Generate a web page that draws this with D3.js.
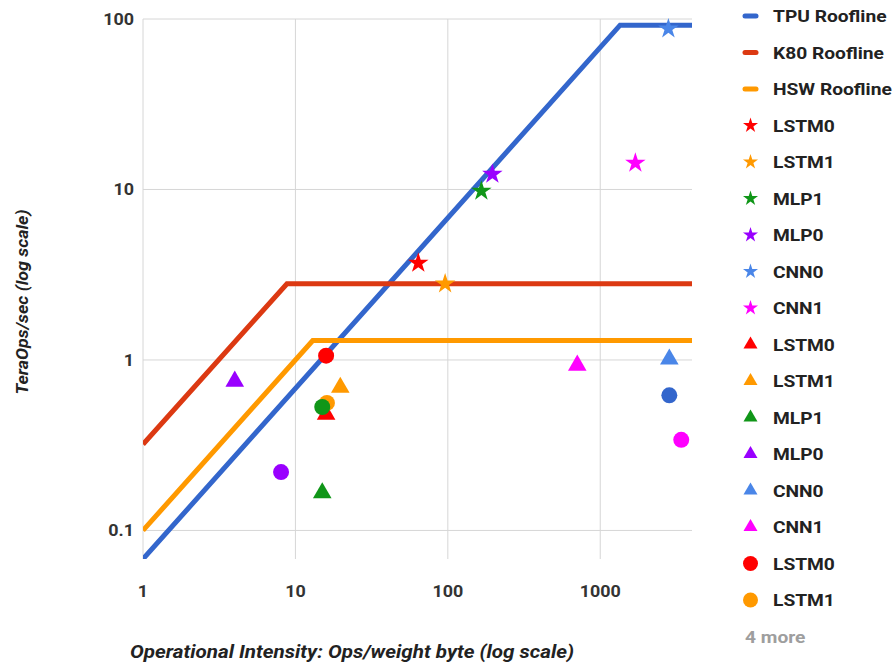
<!DOCTYPE html>
<html>
<head>
<meta charset="utf-8">
<script src="https://cdn.jsdelivr.net/npm/d3@7"></script>
<style>
  body { margin: 0; background: #fff; }
  text { font-family: Roboto, "Noto Sans", sans-serif; }
</style>
</head>
<body>
<div id="chart"></div>
<script>
// axis ticks
const xTicks = [1, 10, 100, 1000];
const yTicks = [0.1, 1, 10, 100];

// rooflines (x = ops/weight byte, y = TeraOps/sec)
const tpuX = [1, 1350, 4000];
const tpuY = [0.068, 92, 92];
const k80X = [1, 8.8, 4000];
const k80Y = [0.32, 2.8, 2.8];
const hswX = [1, 13, 4000];
const hswY = [0.1, 1.3, 1.3];

// workloads, one point per chip
const workloads = ["LSTM0", "LSTM1", "MLP1", "MLP0", "CNN0", "CNN1"];
const starX = [64, 96, 166, 196, 2800, 1700];      // TPU
const starY = [3.7, 2.8, 9.8, 12.3, 87.7, 14.3];
const triX = [15.9, 19.7, 15, 4.0, 2840, 707];     // K80
const triY = [0.48, 0.69, 0.166, 0.75, 1.01, 0.93];
const circX = [15.9, 16.1, 15, 8.05, 2840, 3400];  // HSW
const circY = [1.06, 0.56, 0.53, 0.22, 0.62, 0.34];

const lineColors = ["#3366cc", "#dc3912", "#ff9900"];
const starColors = ["#ff0000", "#ff9900", "#109618", "#9900ff", "#4a86e8", "#ff00ff"];
const circColors = ["#ff0000", "#ff9900", "#109618", "#9900ff", "#3366cc", "#ff00ff"];

var width = 894, height = 666;
var svg = d3.select("#chart").append("svg")
    .attr("width", width)
    .attr("height", height);

var x = d3.scaleLog().domain([1, 4000]).range([143, 692]);
var y = d3.scaleLog().domain([0.068, 100]).range([559, 19]);

// grid
svg.append("g").selectAll("line").data(xTicks).join("line")
    .attr("x1", d => x(d)).attr("x2", d => x(d))
    .attr("y1", y(100)).attr("y2", 559)
    .attr("stroke", "#d6d6d6").attr("stroke-width", 1);
svg.append("g").selectAll("line").data(yTicks).join("line")
    .attr("x1", 143).attr("x2", 692)
    .attr("y1", d => y(d)).attr("y2", d => y(d))
    .attr("stroke", "#d6d6d6").attr("stroke-width", 1);

// tick labels (source image is a bit stretched sideways)
svg.append("g").selectAll("text").data(xTicks).join("text")
    .attr("transform", d => "translate(" + x(d) + ",597) scale(1.12,1)")
    .attr("text-anchor", "middle")
    .attr("font-size", "16px").attr("font-weight", "bold").attr("fill", "#333")
    .text(d => d);
svg.append("g").selectAll("text").data(yTicks).join("text")
    .attr("transform", d => "translate(134," + (y(d) + 6) + ") scale(1.12,1)")
    .attr("text-anchor", "end")
    .attr("font-size", "16px").attr("font-weight", "bold").attr("fill", "#333")
    .text(d => d);

// axis titles
svg.append("text")
    .attr("x", 352).attr("y", 658)
    .attr("text-anchor", "middle")
    .attr("font-size", "18px").attr("font-weight", "bold").attr("font-style", "italic")
    .attr("fill", "#222")
    .attr("textLength", 444).attr("lengthAdjust", "spacingAndGlyphs")
    .text("Operational Intensity: Ops/weight byte (log scale)");
svg.append("text")
    .attr("transform", "translate(28,302) rotate(-90)")
    .attr("text-anchor", "middle")
    .attr("font-size", "17px").attr("font-weight", "bold").attr("font-style", "italic")
    .attr("fill", "#222")
    .attr("textLength", 185).attr("lengthAdjust", "spacingAndGlyphs")
    .text("TeraOps/sec (log scale)");

// clip for rooflines
svg.append("clipPath").attr("id", "clip")
    .append("rect").attr("x", 143).attr("y", 0).attr("width", 560).attr("height", 559);

var line = d3.line().x(d => x(d[0])).y(d => y(d[1]));
var roofs = [d3.zip(tpuX, tpuY), d3.zip(k80X, k80Y), d3.zip(hswX, hswY)];
svg.append("g").attr("clip-path", "url(#clip)")
    .selectAll("path").data(roofs).join("path")
    .attr("d", line)
    .attr("fill", "none")
    .attr("stroke", (d, i) => lineColors[i])
    .attr("stroke-width", 5);

// markers
var star = d3.symbol().type(d3.symbolStar).size(130);
var tri = d3.symbol().type(d3.symbolTriangle).size(150);

function drawPoints(xs, ys, colors, kind) {
    var g = svg.append("g");
    xs.forEach(function (xv, i) {
        if (kind === "circle") {
            g.append("circle")
                .attr("cx", x(xv)).attr("cy", y(ys[i])).attr("r", 8)
                .attr("fill", colors[i]);
        } else {
            g.append("path")
                .attr("d", kind === "star" ? star() : tri())
                .attr("transform", "translate(" + x(xv) + "," + y(ys[i]) + ")")
                .attr("fill", colors[i]);
        }
    });
}
drawPoints(starX, starY, starColors, "star");
drawPoints(triX, triY, starColors, "tri");
drawPoints(circX, circY, circColors, "circle");

// legend
var legendItems = [
    {name: "TPU Roofline", kind: "line", color: lineColors[0]},
    {name: "K80 Roofline", kind: "line", color: lineColors[1]},
    {name: "HSW Roofline", kind: "line", color: lineColors[2]}
];
workloads.forEach((w, i) => legendItems.push({name: w, kind: "star", color: starColors[i]}));
workloads.forEach((w, i) => legendItems.push({name: w, kind: "tri", color: starColors[i]}));
workloads.slice(0, 2).forEach((w, i) => legendItems.push({name: w, kind: "circle", color: circColors[i]}));

var lstar = d3.symbol().type(d3.symbolStar).size(70);
var ltri = d3.symbol().type(d3.symbolTriangle).size(85);
var leg = svg.append("g");
legendItems.forEach(function (it, i) {
    var ly = 16 + i * 36.5;
    if (it.kind === "line") {
        leg.append("line").attr("x1", 745).attr("x2", 756).attr("y1", ly).attr("y2", ly)
            .attr("stroke", it.color).attr("stroke-width", 5).attr("stroke-linecap", "round");
    } else if (it.kind === "circle") {
        leg.append("circle").attr("cx", 750.5).attr("cy", ly).attr("r", 7.5).attr("fill", it.color);
    } else {
        leg.append("path").attr("d", it.kind === "star" ? lstar() : ltri())
            .attr("transform", "translate(750.5," + ly + ")").attr("fill", it.color);
    }
    leg.append("text").attr("transform", "translate(773," + (ly + 6) + ") scale(1.2,1)")
        .attr("font-size", "16px").attr("font-weight", "bold").attr("fill", "#222")
        .text(it.name);
});
leg.append("text").attr("transform", "translate(745," + (16 + 17 * 36.5 + 6) + ") scale(1.2,1)")
    .attr("font-size", "16px").attr("font-weight", "bold").attr("fill", "#9e9e9e")
    .text("4 more");
</script>
</body>
</html>
